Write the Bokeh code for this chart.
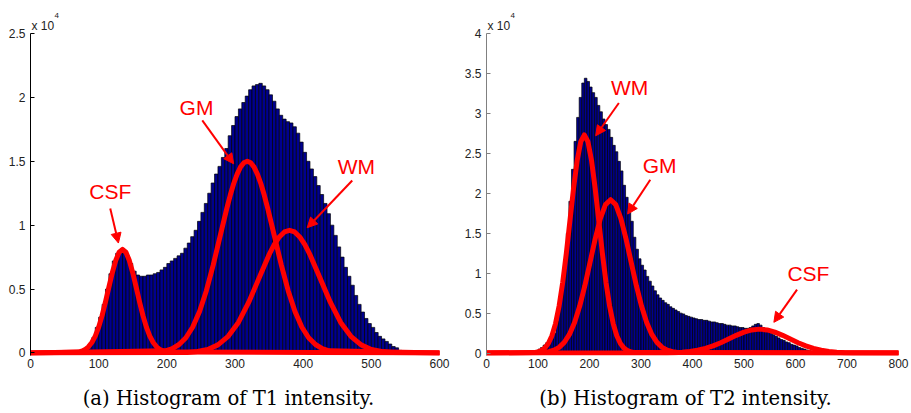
from bokeh.plotting import figure
from bokeh.layouts import row, column
from bokeh.models import (Range1d, FixedTicker, CustomJSTickFormatter, Title,
                          Arrow, NormalHead, ColumnDataSource, Div)
from bokeh.core.properties import value
from bokeh.embed import file_html
from bokeh.resources import INLINE

# ---------------- data (counts in units of 10^4) ----------------
BIN_W = 5
t1_bins = list(range(75, 550, 5))
t1_counts = [0.005, 0.02, 0.06, 0.12, 0.20, 0.28, 0.38, 0.50, 0.62, 0.72,
             0.78, 0.80, 0.80, 0.76, 0.70, 0.64, 0.61, 0.60, 0.60, 0.61,
             0.61, 0.62, 0.63, 0.65, 0.67, 0.70, 0.72, 0.74, 0.76, 0.78,
             0.82, 0.86, 0.91, 0.96, 1.03, 1.10, 1.17, 1.25, 1.33, 1.40,
             1.46, 1.53, 1.60, 1.70, 1.78, 1.85, 1.91, 1.96, 2.01, 2.06,
             2.09, 2.10, 2.11, 2.09, 2.06, 2.02, 1.97, 1.91, 1.86, 1.83,
             1.81, 1.80, 1.77, 1.72, 1.65, 1.57, 1.50, 1.44, 1.38, 1.31,
             1.24, 1.17, 1.09, 1.00, 0.92, 0.83, 0.75, 0.67, 0.60, 0.53,
             0.45, 0.38, 0.32, 0.27, 0.23, 0.20, 0.16, 0.13, 0.11, 0.09,
             0.07, 0.05, 0.04, 0.02, 0.01]

t2_bins = list(range(80, 700, 5))
t2_counts = [0.005, 0.01, 0.02, 0.03, 0.05, 0.07, 0.10, 0.13, 0.15, 0.18,
             0.25, 0.40, 0.60, 0.85, 1.15, 1.50, 1.90, 2.30, 2.65, 2.95,
             3.20, 3.38, 3.44, 3.40, 3.33, 3.26, 3.20, 3.10, 3.02, 2.93,
             2.86, 2.80, 2.70, 2.60, 2.52, 2.40, 2.28, 2.10, 1.95, 1.82,
             1.65, 1.45, 1.30, 1.18, 1.10, 1.04, 0.96, 0.90, 0.84, 0.78,
             0.73, 0.69, 0.66, 0.63, 0.61, 0.58, 0.56, 0.54, 0.52, 0.50,
             0.49, 0.47, 0.46, 0.45, 0.44, 0.43, 0.42, 0.42, 0.41, 0.41,
             0.40, 0.39, 0.39, 0.38, 0.37, 0.37, 0.36, 0.35, 0.35, 0.34,
             0.34, 0.33, 0.32, 0.32, 0.31, 0.31, 0.32, 0.34, 0.36, 0.37,
             0.35, 0.32, 0.29, 0.27, 0.25, 0.23, 0.21, 0.19, 0.17, 0.16,
             0.14, 0.13, 0.11, 0.10, 0.09, 0.07, 0.06, 0.05, 0.04, 0.03,
             0.02, 0.015, 0.01, 0.01, 0.005, 0.005, 0.004, 0.004, 0.003, 0.003,
             0.002, 0.002, 0.002, 0.001]

# fitted class curves, T1
t1_csf_x = [0, 70, 75, 80, 85, 90, 95, 100, 105, 110, 115, 120, 125, 130, 135,
            140, 145, 150, 155, 160, 165, 170, 175, 180, 185, 190, 195, 200, 600]
t1_csf_y = [0, 0.007, 0.014, 0.026, 0.048, 0.082, 0.132, 0.202, 0.292, 0.399, 0.515,
            0.628, 0.723, 0.788, 0.81, 0.788, 0.723, 0.628, 0.515, 0.399, 0.292,
            0.202, 0.132, 0.082, 0.048, 0.026, 0.014, 0.007, 0]
t1_gm_x = [0, 198, 208, 218, 228, 238, 248, 258, 268, 278, 288, 293, 298, 303, 308,
           313, 318, 323, 328, 333, 338, 343, 348, 358, 368, 378, 388, 398, 408,
           418, 428, 438, 600]
t1_gm_y = [0, 0.017, 0.034, 0.066, 0.119, 0.203, 0.325, 0.487, 0.687, 0.910, 1.132,
           1.234, 1.324, 1.398, 1.454, 1.488, 1.500, 1.488, 1.454, 1.398, 1.324,
           1.234, 1.132, 0.910, 0.687, 0.487, 0.325, 0.203, 0.119, 0.066, 0.034,
           0.017, 0]
t1_wm_x = [0, 230, 245, 260, 275, 290, 305, 320, 335, 350, 357.5, 365, 372.5, 380,
           387.5, 395, 402.5, 410, 425, 440, 455, 470, 485, 500, 515, 530, 600]
t1_wm_y = [0, 0.004, 0.011, 0.027, 0.063, 0.130, 0.239, 0.395, 0.582, 0.769, 0.847,
           0.908, 0.947, 0.96, 0.947, 0.908, 0.847, 0.769, 0.582, 0.395, 0.239,
           0.130, 0.063, 0.027, 0.011, 0.004, 0]

# fitted class curves, T2
t2_wm_x = [0, 92, 99, 106, 113, 120, 127, 134, 141, 148, 155, 162, 169, 176, 183, 190,
           197, 204, 211, 218, 225, 232, 239, 246, 253, 260, 267, 274, 281, 288, 800]
t2_wm_y = [0, 0.006, 0.014, 0.030, 0.062, 0.120, 0.217, 0.369, 0.590, 0.886, 1.250,
           1.656, 2.061, 2.409, 2.646, 2.73, 2.646, 2.409, 2.061, 1.656, 1.250, 0.886,
           0.590, 0.369, 0.217, 0.120, 0.062, 0.030, 0.014, 0.006, 0]
t2_gm_x = [0, 111, 121, 131, 141, 151, 161, 171, 181, 191, 201, 211, 221, 231, 241,
           251, 261, 271, 281, 291, 301, 311, 321, 331, 341, 351, 361, 371, 800]
t2_gm_y = [0, 0.007, 0.017, 0.036, 0.072, 0.134, 0.234, 0.384, 0.588, 0.844, 1.135,
           1.428, 1.684, 1.858, 1.92, 1.858, 1.684, 1.428, 1.135, 0.844, 0.588, 0.384,
           0.234, 0.134, 0.072, 0.036, 0.017, 0.007, 0]
t2_csf_x = [0, 350, 365, 380, 395, 410, 425, 440, 455, 470, 485, 500, 515, 530, 545,
            560, 575, 590, 605, 620, 635, 650, 665, 680, 695, 710, 800]
t2_csf_y = [0, 0.002, 0.005, 0.011, 0.020, 0.035, 0.058, 0.090, 0.130, 0.176, 0.222,
            0.262, 0.290, 0.30, 0.290, 0.262, 0.222, 0.176, 0.130, 0.090, 0.058, 0.035,
            0.020, 0.011, 0.005, 0.002, 0]

# annotations
t1_labels = ["CSF", "GM", "WM"]
t1_label_x = [117, 243.5, 478]
t1_label_y = [1.26, 1.92, 1.46]
t1_arrow_x0 = [117, 252, 472]
t1_arrow_y0 = [1.13, 1.82, 1.35]
t1_arrow_x1 = [129, 298, 406]
t1_arrow_y1 = [0.86, 1.48, 0.98]

t2_labels = ["WM", "GM", "CSF"]
t2_label_x = [278, 336, 625]
t2_label_y = [3.33, 2.35, 1.0]
t2_arrow_x0 = [257, 318, 603]
t2_arrow_y0 = [3.13, 2.17, 0.795]
t2_arrow_x1 = [212, 274, 558]
t2_arrow_y1 = [2.72, 1.74, 0.385]

t1_xticks = [0, 100, 200, 300, 400, 500, 600]
t1_yticks = [0, 0.5, 1, 1.5, 2, 2.5]
t2_xticks = [0, 100, 200, 300, 400, 500, 600, 700, 800]
t2_yticks = [0, 0.5, 1, 1.5, 2, 2.5, 3, 3.5, 4]

t1_caption = "(a) Histogram of T1 intensity."
t2_caption = "(b) Histogram of T2 intensity."

SANS = "Liberation Sans"
SERIF = "DejaVu Serif"
FIG_H = 385
CAP_H = 413 - FIG_H


def build(xmax, ymin, ymax, width, ml, mr, mt, mb, bins, counts,
          curves, labels, lx, ly, ax0, ay0, ax1, ay1, xticks, yticks,
          axis_color):
    p = figure(width=width, height=FIG_H, x_range=Range1d(0, xmax),
               y_range=Range1d(ymin, ymax), output_backend="svg",
               toolbar_location=None, min_border_left=ml, min_border_right=mr,
               min_border_top=mt, min_border_bottom=mb)
    p.outline_line_color = None
    p.grid.visible = False
    p.background_fill_color = "white"
    p.border_fill_color = "white"

    centers = [b + BIN_W / 2 for b in bins]
    p.vbar(x=centers, top=counts, width=BIN_W, bottom=0,
           fill_color="#00008F", line_color="black", line_width=0.7)

    for cx, cy in curves:
        p.line(cx, cy, line_color="#FF0000", line_width=5,
               line_join="round", line_cap="round")

    src = ColumnDataSource(dict(x=lx, y=ly, t=labels))
    p.text(x="x", y="y", text="t", source=src, text_color="#FF0000",
           text_font=value(SANS), text_font_size="21px",
           text_align="center", text_baseline="middle")

    asrc = ColumnDataSource(dict(x0=ax0, y0=ay0, x1=ax1, y1=ay1))
    p.add_layout(Arrow(end=NormalHead(size=10, fill_color="#FF0000",
                                      line_color="#FF0000"),
                       x_start="x0", y_start="y0", x_end="x1", y_end="y1",
                       source=asrc, line_color="#FF0000", line_width=2))

    fmt = CustomJSTickFormatter(code="return String(tick);")
    p.xaxis.ticker = FixedTicker(ticks=xticks)
    p.yaxis.ticker = FixedTicker(ticks=yticks)
    p.xaxis.formatter = fmt
    p.yaxis.formatter = fmt
    for ax in (p.xaxis, p.yaxis):
        ax.major_label_text_font = SANS
        ax.major_label_text_font_size = "12px"
        ax.major_label_text_color = "#222222"
        ax.minor_tick_line_color = None
        ax.major_tick_in = 4
        ax.major_tick_out = 0
        ax.axis_line_color = axis_color
        ax.major_tick_line_color = axis_color
    p.xaxis.axis_line_color = None
    p.xaxis.major_tick_line_color = None
    p.xaxis.major_label_standoff = 3
    p.yaxis.major_label_standoff = 5

    # "x 10^4" multiplier above the y axis
    p.add_layout(Title(text="x 10", align="left", offset=1, standoff=2,
                       text_font=SANS, text_font_size="12px",
                       text_font_style="normal", text_color="#222222"), "above")
    p.add_layout(Title(text="4", align="left", offset=24, standoff=-4,
                       text_font=SANS, text_font_size="8px",
                       text_font_style="normal", text_color="#222222"), "above")
    return p


def caption(text, width, shift):
    return Div(text=text, width=width, height=CAP_H, margin=(0, 0, 0, 0),
               styles={"font-family": SERIF, "font-size": "19.6px",
                       "color": "black", "text-align": "center",
                       "line-height": "24px", "padding-top": "2px",
                       "padding-right": f"{shift}px", "box-sizing": "border-box",
                       "white-space": "nowrap"})


p1 = build(600, -0.02, 2.5, 460, 30, 21, 33, FIG_H - 33 - 323,
           t1_bins, t1_counts,
           [(t1_csf_x, t1_csf_y), (t1_gm_x, t1_gm_y), (t1_wm_x, t1_wm_y)],
           t1_labels, t1_label_x, t1_label_y,
           t1_arrow_x0, t1_arrow_y0, t1_arrow_x1, t1_arrow_y1,
           t1_xticks, t1_yticks, "black")

p2 = build(800, -0.03, 4, 451, 26, 13, 27, FIG_H - 27 - 328,
           t2_bins, t2_counts,
           [(t2_wm_x, t2_wm_y), (t2_gm_x, t2_gm_y), (t2_csf_x, t2_csf_y)],
           t2_labels, t2_label_x, t2_label_y,
           t2_arrow_x0, t2_arrow_y0, t2_arrow_x1, t2_arrow_y1,
           t2_xticks, t2_yticks, "#808080")

layout = column(row(p1, p2),
                row(caption(t1_caption, 460, 3), caption(t2_caption, 451, 0)),
                spacing=0)
open("out.html", "w").write(file_html(layout, INLINE))
